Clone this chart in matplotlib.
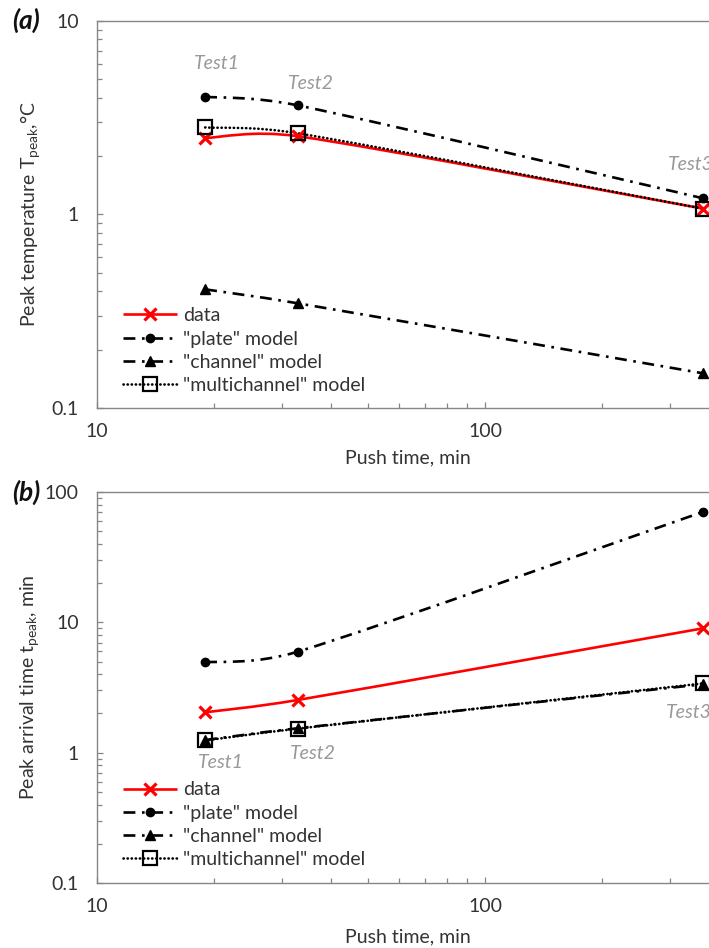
import numpy as np
import matplotlib
matplotlib.use('Agg')
import matplotlib.pyplot as plt
from matplotlib.path import Path
from matplotlib.patches import PathPatch
from matplotlib.lines import Line2D
from matplotlib.ticker import FixedLocator, NullFormatter, FuncFormatter

plt.rcParams['font.family'] = ['Lato', 'DejaVu Sans']
plt.rcParams['mathtext.default'] = 'regular'

# data
push_time = [19, 33, 365]
test_names = ['Test1', 'Test2', 'Test3']

# (a) peak temperature, degC
temp_data = [2.48, 2.53, 1.07]
temp_plate = [4.05, 3.65, 1.21]
temp_channel = [0.41, 0.347, 0.151]
temp_multi = [2.81, 2.62, 1.07]

# (b) peak arrival time, min
arr_data = [2.04, 2.54, 9.0]
arr_plate = [4.92, 5.97, 70.5]
arr_channel = [1.25, 1.54, 3.35]
arr_multi = [1.24, 1.53, 3.40]

legend_labels = ['data', '"plate" model', '"channel" model', '"multichannel" model']

GRAY = '#868686'
TXT = '#333333'
LBL = '#999999'
FS = 14
LW = 1.9


#################################################################
# excel style smoothed line: bezier through the points, control
# points worked out in screen pixels so the curve does not overshoot
#################################################################
def smooth_path(ax, x, y):
    p = ax.transData.transform(np.column_stack([x, y]))
    n = len(p)
    verts = [p[0]]
    codes = [Path.MOVETO]
    for i in range(n - 1):
        seg = np.linalg.norm(p[i + 1] - p[i])
        t0 = p[i + 1] - p[max(i - 1, 0)]
        t1 = p[min(i + 2, n - 1)] - p[i]
        f0 = min(1 / 6, seg / (2 * np.linalg.norm(t0)))
        f1 = min(1 / 6, seg / (2 * np.linalg.norm(t1)))
        verts.append(p[i] + t0 * f0)
        verts.append(p[i + 1] - t1 * f1)
        verts.append(p[i + 1])
        codes += [Path.CURVE4] * 3
    verts = ax.transData.inverted().transform(np.array(verts))
    return Path(verts, codes)


# line styles for the 4 series
styles = [
    dict(color='red', ls='-', marker='x', ms=8, mew=2.3, mfc='red', cap='butt'),
    dict(color='black', ls=(0, (4.5, 2.5, 1, 2.5)), marker='o', ms=6, mew=1, mfc='black', cap='butt'),
    dict(color='black', ls=(0, (4.5, 2.5, 1, 2.5)), marker='^', ms=7, mew=1, mfc='black', cap='butt'),
    dict(color='black', ls=(0, (0.1, 1.45)), marker='s', ms=9.5, mew=1.6, mfc='none', cap='round'),
]


def draw_panel(ax, series, ylim, yticks, label_offsets, label_ref):
    ax.set_xscale('log')
    ax.set_yscale('log')
    ax.set_xlim(10, 1000)
    ax.set_ylim(*ylim)

    for vals, st in zip(series, styles):
        patch = PathPatch(smooth_path(ax, push_time, vals), fill=False, edgecolor=st['color'],
                          linewidth=LW, linestyle=st['ls'], capstyle=st['cap'])
        ax.add_patch(patch)
        ax.plot(push_time, vals, ls='none', marker=st['marker'], ms=st['ms'],
                mew=st['mew'], mec=st['color'], mfc=st['mfc'], color=st['color'])
    ax.set_xlim(10, 1000)
    ax.set_ylim(*ylim)

    ax.xaxis.set_major_locator(FixedLocator([10, 100, 1000]))
    ax.xaxis.set_minor_locator(FixedLocator([m * d for d in (10, 100) for m in range(2, 10)]))
    ax.yaxis.set_major_locator(FixedLocator(yticks))
    ax.yaxis.set_minor_locator(FixedLocator([m * d for d in yticks[:-1] for m in range(2, 10)]))
    ax.xaxis.set_major_formatter(FuncFormatter(lambda v, _: f'{v:g}' if v < 500 else ''))
    ax.yaxis.set_major_formatter(FuncFormatter(lambda v, _: f'{v:g}'))
    ax.xaxis.set_minor_formatter(NullFormatter())
    ax.yaxis.set_minor_formatter(NullFormatter())

    ax.tick_params(which='both', direction='in', colors=GRAY, labelcolor=TXT,
                   labelsize=FS, width=0.9, top=False, right=False)
    ax.tick_params(which='major', length=4.5)
    ax.tick_params(which='minor', length=3.5)
    ax.tick_params(axis='y', pad=13)
    ax.tick_params(axis='x', pad=11)
    for s in ax.spines.values():
        s.set_color(GRAY)
        s.set_linewidth(1.0)

    for name, x, y, off in zip(test_names, push_time, label_ref, label_offsets):
        ax.annotate(name, xy=(x, y), xytext=off, textcoords='offset points',
                    ha='center', va='center', color=LBL, style='italic', fontsize=FS)

    handles = []
    for st in styles:
        h = Line2D([], [], color=st['color'], lw=LW, ls=st['ls'], marker=st['marker'],
                   ms=st['ms'], mew=st['mew'], mec=st['color'], mfc=st['mfc'],
                   dash_capstyle=st['cap'], solid_capstyle='butt')
        handles.append(h)
    ax.legend(handles, legend_labels, loc='upper left', bbox_to_anchor=(0.033, 0.26),
              frameon=False, fontsize=FS, borderpad=0, borderaxespad=0,
              handlelength=2.8, handletextpad=0.3, labelspacing=0.32, labelcolor=TXT)

    ax.set_xlabel('Push time, min', fontsize=FS, color=TXT, va='center')


fig = plt.figure(figsize=(7.09, 9.48), dpi=100)
W = 776 / 709
ax_a = fig.add_axes([97 / 709, 1 - 408 / 948, W, 387.3 / 948])
ax_b = fig.add_axes([97 / 709, 1 - 883 / 948, W, 391 / 948])

draw_panel(ax_a, [temp_data, temp_plate, temp_channel, temp_multi], (0.1, 10), [0.1, 1, 10],
           [(8.6, 23.8), (9.4, 15.8), (-8.6, 24.5)], temp_plate)
draw_panel(ax_b, [arr_data, arr_plate, arr_channel, arr_multi], (0.1, 100), [0.1, 1, 10, 100],
           [(11.5, -15.8), (10.8, -18), (-10, -21)], arr_multi)

ax_a.set_ylabel('Peak temperature T$_{peak}$,°C', fontsize=FS, color=TXT, va='center')
ax_b.set_ylabel('Peak arrival time t$_{peak}$, min', fontsize=FS, color=TXT, va='center')
ax_a.yaxis.set_label_coords((30 - 97) / 776, 0.5)
ax_b.yaxis.set_label_coords((30 - 97) / 776, 0.5)
ax_a.xaxis.set_label_coords((408 - 97) / 776, (408 - 458) / 387.3)
ax_b.xaxis.set_label_coords((408 - 97) / 776, (883 - 937) / 391)

fig.text(12 / 709, 1 - 20 / 948, '(a)', fontsize=19, fontweight='bold', style='italic',
         va='center', ha='left', color='#111111')
fig.text(12 / 709, 1 - 492 / 948, '(b)', fontsize=19, fontweight='bold', style='italic',
         va='center', ha='left', color='#111111')

fig.savefig('out.png', dpi=100)
